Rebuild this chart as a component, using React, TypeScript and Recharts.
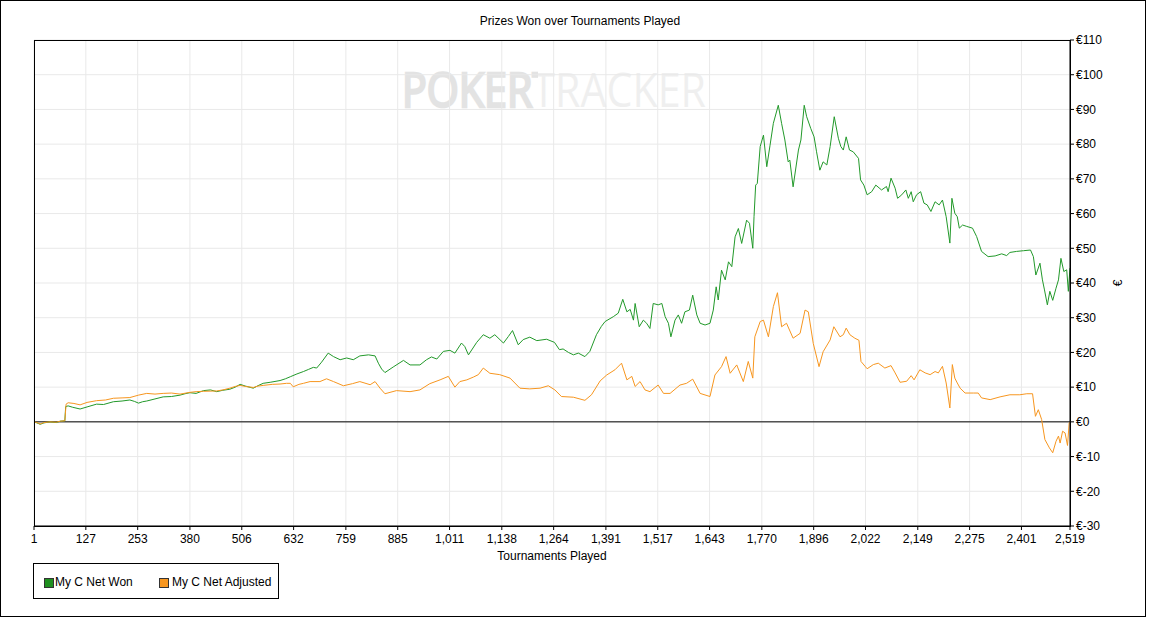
import {
  CartesianGrid,
  Line,
  LineChart,
  ReferenceLine,
  XAxis,
  YAxis,
} from "recharts";

// [tournament, € net]
const netWon: [number, number][] = [
  [1, 0], [8, -0.3], [16, -0.7], [25, -0.3], [40, 0], [55, -0.2], [65, 0.2], [76, 0.3],
  [78, 4.4], [84, 4.6], [95, 4.2], [113, 3.7], [130, 4.3], [153, 5.1], [170, 5.0], [194, 5.8],
  [215, 6.0], [234, 6.3], [245, 5.9], [255, 5.4], [265, 5.8], [275, 6.0], [295, 6.6], [315, 7.2],
  [335, 7.3], [356, 7.7], [368, 8.1], [380, 8.4], [395, 8.2], [413, 9.0], [430, 9.2], [445, 8.7],
  [460, 9.1], [477, 9.4], [490, 10.0], [502, 10.8], [515, 10.3], [534, 9.7], [545, 10.4], [558, 11.1],
  [575, 11.4], [599, 11.9], [612, 12.4], [624, 13.0], [640, 13.8], [656, 14.5], [668, 15.1], [680, 15.7],
  [688, 15.5], [700, 17.2], [716, 19.8], [729, 18.8], [745, 17.9], [761, 18.4], [777, 17.9], [793, 19.0],
  [814, 19.3], [830, 19.0], [838, 16.9], [846, 15.2], [854, 14.2], [874, 15.8], [899, 17.7], [915, 16.4],
  [939, 16.4], [955, 17.9], [967, 18.7], [980, 18.1], [996, 20.3], [1012, 20.6], [1024, 19.8], [1040, 22.7],
  [1048, 21.7], [1057, 19.3], [1077, 22.9], [1093, 25.1], [1109, 24.1], [1121, 25.1], [1142, 22.7], [1154, 24.6],
  [1164, 26.3], [1178, 22.2], [1190, 23.7], [1206, 24.4], [1223, 23.4], [1247, 23.8], [1266, 22.9], [1278, 20.8],
  [1287, 21.0], [1300, 20.0], [1312, 19.3], [1324, 19.8], [1340, 18.8], [1352, 20.3], [1368, 25.1], [1380, 27.5],
  [1389, 28.9], [1409, 30.3], [1421, 31.3], [1432, 35.3], [1442, 31.7], [1450, 32.4], [1458, 29.3], [1462, 34.1],
  [1472, 27.4], [1482, 29.3], [1490, 28.4], [1498, 26.9], [1506, 34.1], [1518, 33.7], [1527, 34.1], [1535, 30.3],
  [1543, 28.4], [1549, 24.5], [1559, 29.3], [1567, 30.8], [1575, 28.4], [1583, 31.7], [1594, 32.2], [1602, 36.5],
  [1612, 30.8], [1620, 28.4], [1632, 27.9], [1644, 28.4], [1652, 32.2], [1659, 38.9], [1664, 35.1], [1672, 43.7],
  [1681, 40.9], [1689, 46.1], [1697, 44.7], [1705, 53.3], [1713, 55.7], [1721, 51.4], [1733, 58.1], [1740, 57.2],
  [1748, 50.0], [1751, 59.1], [1755, 68.2], [1759, 68.7], [1766, 79.3], [1774, 82.6], [1782, 73.5], [1790, 79.7],
  [1798, 86.0], [1810, 91.2], [1818, 86.0], [1826, 81.2], [1834, 74.9], [1838, 75.4], [1846, 67.7], [1859, 78.3],
  [1865, 81.2], [1873, 91.2], [1879, 87.9], [1889, 84.5], [1897, 82.1], [1903, 77.8], [1911, 72.5], [1919, 74.9],
  [1928, 74.0], [1936, 79.3], [1946, 87.9], [1956, 81.7], [1962, 79.3], [1968, 78.3], [1975, 82.1], [1983, 78.3],
  [1992, 77.8], [2005, 75.9], [2010, 69.7], [2018, 68.2], [2026, 65.4], [2037, 66.3], [2047, 68.2], [2061, 66.8],
  [2073, 67.8], [2077, 66.3], [2084, 70.2], [2094, 67.3], [2100, 64.4], [2110, 65.4], [2120, 66.8], [2126, 64.4],
  [2133, 66.3], [2138, 63.4], [2146, 65.4], [2156, 66.3], [2164, 63.0], [2172, 62.5], [2181, 60.6], [2191, 63.4],
  [2201, 62.5], [2209, 63.9], [2218, 59.1], [2227, 51.5], [2232, 64.4], [2239, 60.1], [2245, 59.1], [2250, 55.8],
  [2258, 56.7], [2268, 56.3], [2282, 55.8], [2292, 53.4], [2304, 49.1], [2320, 47.6], [2337, 47.8], [2353, 48.4],
  [2365, 47.9], [2373, 48.8], [2389, 49.1], [2406, 49.3], [2423, 49.5], [2430, 47.6], [2436, 42.3], [2446, 45.7],
  [2452, 40.9], [2457, 38.0], [2464, 33.7], [2470, 37.6], [2477, 35.0], [2485, 38.5], [2491, 40.9], [2497, 47.1],
  [2504, 43.3], [2511, 43.8], [2515, 37.6], [2519, 44.3],
];

const netAdjusted: [number, number][] = [
  [1, 0], [8, -0.2], [16, -0.6], [25, -0.2], [40, 0], [55, -0.1], [65, 0.2], [76, 0.3],
  [79, 5.1], [84, 5.5], [98, 5.3], [113, 4.9], [130, 5.6], [153, 6.1], [175, 6.3], [194, 6.8],
  [215, 6.9], [234, 7.0], [255, 7.7], [275, 8.2], [295, 8.0], [315, 8.2], [335, 8.3], [356, 8.0],
  [380, 8.5], [395, 8.7], [413, 8.8], [445, 8.9], [460, 9.2], [477, 9.7], [490, 10.2], [502, 10.5],
  [515, 10.2], [534, 9.9], [545, 10.3], [558, 10.5], [580, 10.8], [599, 10.9], [615, 11.1], [624, 11.1],
  [631, 10.1], [645, 10.8], [656, 11.1], [672, 11.6], [696, 11.6], [712, 12.4], [729, 11.6], [753, 10.4],
  [775, 11.0], [793, 11.6], [818, 10.7], [830, 11.6], [842, 9.7], [854, 8.1], [882, 9.0], [915, 8.7],
  [939, 9.2], [963, 11.0], [988, 12.1], [1008, 13.1], [1024, 10.0], [1036, 11.6], [1053, 12.1], [1069, 12.9],
  [1081, 13.6], [1093, 15.5], [1109, 14.0], [1133, 13.6], [1158, 12.6], [1182, 9.7], [1206, 9.5], [1231, 9.7],
  [1251, 10.4], [1267, 9.2], [1283, 7.3], [1312, 7.1], [1340, 6.2], [1356, 7.8], [1377, 11.8], [1393, 13.5],
  [1413, 15.0], [1429, 16.9], [1442, 12.1], [1454, 13.1], [1462, 10.2], [1474, 11.6], [1486, 9.2], [1498, 8.7],
  [1518, 10.6], [1531, 8.2], [1547, 8.2], [1571, 10.6], [1587, 11.1], [1602, 12.3], [1620, 8.2], [1644, 7.3],
  [1656, 13.5], [1672, 15.9], [1683, 18.8], [1693, 14.0], [1709, 16.4], [1725, 11.6], [1737, 17.4], [1748, 12.6],
  [1753, 24.5], [1766, 28.9], [1774, 29.3], [1786, 24.5], [1798, 33.2], [1808, 37.2], [1818, 27.4], [1830, 28.4],
  [1846, 24.1], [1863, 25.5], [1875, 32.2], [1883, 31.7], [1895, 22.6], [1909, 15.9], [1919, 20.2], [1936, 23.6],
  [1945, 27.4], [1960, 24.5], [1968, 25.1], [1975, 27.0], [1984, 25.1], [1996, 24.1], [2006, 23.5], [2011, 17.4],
  [2021, 16.0], [2026, 15.3], [2041, 16.5], [2053, 16.9], [2069, 15.5], [2084, 16.2], [2094, 14.1], [2106, 11.4],
  [2122, 11.7], [2133, 13.3], [2140, 12.1], [2154, 15.0], [2167, 14.1], [2179, 13.6], [2191, 14.5], [2199, 14.1],
  [2209, 16.0], [2218, 11.2], [2227, 4.0], [2233, 16.5], [2239, 12.6], [2245, 11.2], [2252, 9.7], [2264, 8.3],
  [2284, 8.3], [2296, 8.3], [2304, 6.9], [2325, 6.4], [2349, 7.2], [2373, 7.8], [2397, 7.8], [2414, 8.1],
  [2428, 8.1], [2435, 1.6], [2442, 3.5], [2450, 0.7], [2458, -5.1], [2469, -7.5], [2477, -8.9], [2485, -5.6],
  [2491, -4.1], [2495, -6.1], [2501, -2.7], [2507, -3.2], [2513, -6.8], [2517, -0.3], [2519, 0],
];

const xTicks = [
  1, 127, 253, 380, 506, 632, 759, 885, 1011, 1138, 1264, 1391, 1517, 1643, 1770, 1896, 2022,
  2149, 2275, 2401, 2519,
];
const yTicks = [-30, -20, -10, 0, 10, 20, 30, 40, 50, 60, 70, 80, 90, 100, 110];

const FONT = '"Liberation Sans", Arial, sans-serif';
const GREEN = "#22992a";
const ORANGE = "#f7961f";

// plot rectangle in page pixels
const PLOT = { left: 34, top: 40, right: 1070, bottom: 526 };

const toRows = (pairs: [number, number][]) => pairs.map(([t, v]) => ({ t, v }));

export default function App() {
  const tick = { fill: "#000", fontSize: 12, fontFamily: FONT };

  return (
    <div
      style={{
        position: "absolute",
        left: 0,
        top: 0,
        width: 1149,
        height: 617,
        background: "#fff",
        fontFamily: FONT,
        color: "#000",
        overflow: "hidden",
      }}
    >
      {/* outer frame */}
      <div
        style={{
          position: "absolute",
          left: 0,
          top: 0,
          width: 1146,
          height: 617,
          boxSizing: "border-box",
          border: "1px solid #000",
        }}
      />

      {/* watermark: one text, darker and heavier on the first word */}
      <svg
        width={1149}
        height={617}
        style={{ position: "absolute", left: 0, top: 0 }}
      >
        <defs>
          <linearGradient id="wmFill" gradientUnits="userSpaceOnUse" x1={402} x2={706} y1={0} y2={0}>
            <stop offset="0.447" stopColor="#e3e3e3" />
            <stop offset="0.447" stopColor="#efefef" />
          </linearGradient>
          <linearGradient id="wmStroke" gradientUnits="userSpaceOnUse" x1={402} x2={706} y1={0} y2={0}>
            <stop offset="0.447" stopColor="#e3e3e3" stopOpacity={1} />
            <stop offset="0.447" stopColor="#efefef" stopOpacity={0} />
          </linearGradient>
        </defs>
        <text
          x={402}
          y={107}
          fontFamily='"Open Sans", sans-serif'
          fontSize={48}
          fill="url(#wmFill)"
          stroke="url(#wmStroke)"
          strokeWidth={2.5}
          textLength={304}
          lengthAdjust="spacingAndGlyphs"
        >
          POKERTRACKER
        </text>
      </svg>

      <div style={{ position: "absolute", left: 0, top: 0 }}>
        <LineChart
          width={1149}
          height={617}
          margin={{ top: PLOT.top, left: PLOT.left, right: 1149 - PLOT.right - 60, bottom: 617 - PLOT.bottom - 30 }}
        >
          <CartesianGrid stroke="#e9e9e9" />
          <XAxis
            type="number"
            dataKey="t"
            domain={[1, 2519]}
            ticks={xTicks}
            interval={0}
            tick={tick}
            tickFormatter={(v: number) => v.toLocaleString("en-US")}
            tickSize={4}
            tickMargin={4}
            height={30}
            stroke="#000"
          />
          <YAxis
            orientation="right"
            type="number"
            domain={[-30, 110]}
            ticks={yTicks}
            interval={0}
            tick={tick}
            tickFormatter={(v: number) => `€${v}`}
            tickSize={4}
            tickMargin={2}
            width={60}
            stroke="#000"
          />
          <ReferenceLine y={0} stroke="#000" strokeWidth={1} />
          <Line
            data={toRows(netWon)}
            dataKey="v"
            type="linear"
            stroke={GREEN}
            strokeWidth={1}
            dot={false}
            activeDot={false}
            isAnimationActive={false}
          />
          <Line
            data={toRows(netAdjusted)}
            dataKey="v"
            type="linear"
            stroke={ORANGE}
            strokeWidth={1}
            dot={false}
            activeDot={false}
            isAnimationActive={false}
          />
        </LineChart>
      </div>

      {/* plot frame */}
      <div
        style={{
          position: "absolute",
          left: PLOT.left,
          top: PLOT.top,
          width: PLOT.right - PLOT.left + 1,
          height: PLOT.bottom - PLOT.top + 1,
          boxSizing: "border-box",
          border: "1px solid #000",
          pointerEvents: "none",
        }}
      />

      {/* title and axis titles */}
      <div style={{ position: "absolute", left: 0, width: 1160, top: 14, textAlign: "center", fontSize: 12 }}>
        Prizes Won over Tournaments Played
      </div>
      <div style={{ position: "absolute", left: PLOT.left, width: PLOT.right - PLOT.left, top: 549, textAlign: "center", fontSize: 12 }}>
        Tournaments Played
      </div>
      <div
        style={{
          position: "absolute",
          left: 1115,
          top: 276,
          fontSize: 12,
          transform: "rotate(-90deg)",
        }}
      >
        €
      </div>

      {/* legend */}
      <div
        style={{
          position: "absolute",
          left: 33,
          top: 563,
          width: 246,
          height: 36,
          boxSizing: "border-box",
          border: "1px solid #000",
          fontSize: 12,
        }}
      >
        <div style={{ position: "absolute", left: 10, top: 14, width: 8, height: 8, background: "#1f8f1f", border: "1px solid #333" }} />
        <div style={{ position: "absolute", left: 21, top: 11 }}>My C Net Won</div>
        <div style={{ position: "absolute", left: 125, top: 14, width: 8, height: 8, background: "#f7961f", border: "1px solid #333" }} />
        <div style={{ position: "absolute", left: 138, top: 11 }}>My C Net Adjusted</div>
      </div>
    </div>
  );
}
